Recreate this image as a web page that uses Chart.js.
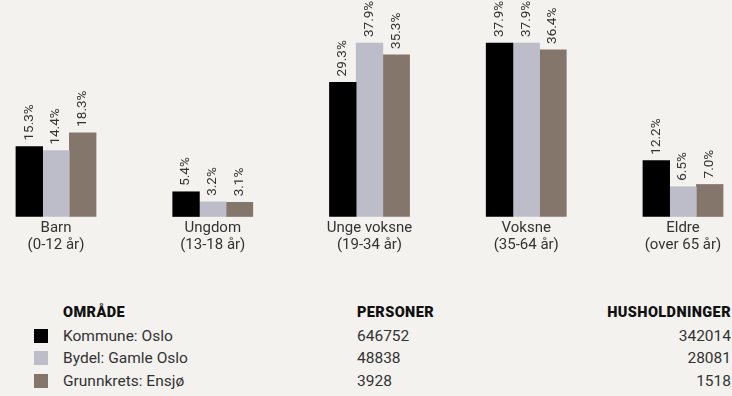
<!DOCTYPE html>
<html>
<head>
<meta charset="utf-8">
<script src="https://cdn.jsdelivr.net/npm/chart.js@4"></script>
<style>
    html, body {
        margin: 0;
        padding: 0;
        background: #f3f2ef;
        width: 732px;
        height: 396px;
        overflow: hidden;
        font-family: Roboto, "Noto Sans", sans-serif;
        color: #333;
    }
    #wrap {
        position: absolute;
        left: 0;
        top: 0;
        width: 732px;
        height: 257px;
    }
    #table {
        position: absolute;
        left: 0;
        top: 302px;
        width: 732px;
        font-size: 15.5px;
    }
    .row {
        position: relative;
        height: 22.5px;
        line-height: 22.5px;
    }
    .row.head {
        font-weight: 900;
        font-size: 14.5px;
        color: #111;
        letter-spacing: 0.4px;
    }
    .sw {
        position: absolute;
        left: 34px;
        top: 4px;
        width: 14px;
        height: 14px;
    }
    .c1 { position: absolute; left: 63px; }
    .c2 { position: absolute; left: 357px; }
    .c3 { position: absolute; right: 1px; }
</style>
</head>
<body>
<div id="wrap"><canvas id="chart"></canvas></div>
<div id="table"></div>
<script>
const categories = [['Barn', '(0-12 år)'], ['Ungdom', '(13-18 år)'], ['Unge voksne', '(19-34 år)'], ['Voksne', '(35-64 år)'], ['Eldre', '(over 65 år)']];
const areas = ['Kommune: Oslo', 'Bydel: Gamle Oslo', 'Grunnkrets: Ensjø'];
const colors = ['#000000', '#bcbdc8', '#85766c'];
const kommune = [15.3, 5.4, 29.3, 37.9, 12.2];
const bydel = [14.4, 3.2, 37.9, 37.9, 6.5];
const grunnkrets = [18.3, 3.1, 35.3, 36.4, 7.0];
const personer = [646752, 48838, 3928];
const husholdninger = [342014, 28081, 1518];

const series = [kommune, bydel, grunnkrets];

// rotated value labels above each bar
const valueLabels = {
    id: 'valueLabels',
    afterDatasetsDraw(chart) {
        const ctx = chart.ctx;
        ctx.save();
        ctx.font = '13.5px Roboto, "Noto Sans", sans-serif';
        ctx.fillStyle = '#333';
        ctx.textAlign = 'left';
        ctx.textBaseline = 'middle';
        chart.data.datasets.forEach((ds, i) => {
            chart.getDatasetMeta(i).data.forEach((bar, j) => {
                ctx.save();
                ctx.translate(bar.x, bar.y - 6);
                ctx.rotate(-Math.PI / 2);
                ctx.fillText(ds.data[j].toFixed(1) + '%', 0, 0);
                ctx.restore();
            });
        });
        ctx.restore();
    }
};

new Chart(document.getElementById('chart'), {
    type: 'bar',
    data: {
        labels: categories,
        datasets: series.map((values, i) => ({
            label: areas[i],
            data: values,
            backgroundColor: colors[i],
            barThickness: 26.7,
            clip: false
        }))
    },
    options: {
        responsive: true,
        maintainAspectRatio: false,
        animation: false,
        layout: {
            padding: { left: 56, right: 49, top: 0, bottom: 0 }
        },
        plugins: {
            legend: { display: false },
            tooltip: { enabled: false }
        },
        scales: {
            x: {
                offset: false,
                grid: { display: false },
                border: { display: false },
                ticks: {
                    color: '#333',
                    padding: -5,
                    maxRotation: 0,
                    autoSkip: false,
                    font: { family: 'Roboto, "Noto Sans", sans-serif', size: 15, lineHeight: 1.15 }
                },
                // room for labels pulled up by the negative padding
                afterFit(scale) {
                    scale.height += 8;
                }
            },
            y: {
                display: false,
                min: 0,
                max: 47.3
            }
        }
    },
    plugins: [valueLabels]
});

// area table below the chart
const table = document.getElementById('table');
let html = '<div class="row head"><span class="c1">OMRÅDE</span><span class="c2">PERSONER</span><span class="c3">HUSHOLDNINGER</span></div>';
areas.forEach((name, i) => {
    html += '<div class="row"><span class="sw" style="background:' + colors[i] + '"></span>' +
        '<span class="c1">' + name + '</span>' +
        '<span class="c2">' + personer[i] + '</span>' +
        '<span class="c3">' + husholdninger[i] + '</span></div>';
});
table.innerHTML = html;
</script>
</body>
</html>
